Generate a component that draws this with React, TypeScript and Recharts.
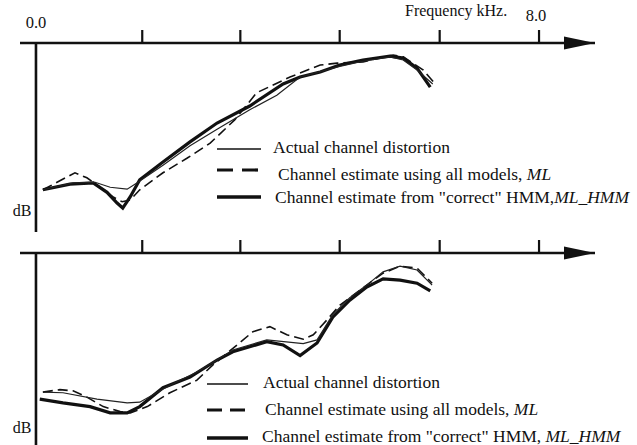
import { LineChart, Line, XAxis, YAxis, ReferenceLine, ReferenceDot, Legend } from 'recharts';

// frequency axis (kHz), tick positions as drawn in the figure
const FREQ_TICKS = [0, 1.69, 3.25, 4.83, 6.42, 8.0];
const FREQ_LABELS = ['0.0', '', '', '', '', '8.0'];
const X_DOMAIN = [-0.254, 8.89];

// upper panel (dB, arbitrary reference)
const topActual = [
  { f: 0.11, db: -23.3 }, { f: 0.59, db: -22.2 }, { f: 0.94, db: -22.1 }, { f: 1.18, db: -22.9 },
  { f: 1.45, db: -23.2 }, { f: 1.61, db: -22.2 }, { f: 2.02, db: -19.4 }, { f: 2.45, db: -16.3 },
  { f: 2.88, db: -13.7 }, { f: 3.4, db: -10.6 }, { f: 3.83, db: -8.3 }, { f: 4.2, db: -5.4 },
  { f: 4.83, db: -3.7 }, { f: 5.2, db: -2.9 }, { f: 5.63, db: -2.2 }, { f: 5.84, db: -2.7 },
  { f: 6.06, db: -4.3 }, { f: 6.31, db: -6.5 },
];
const topML = [
  { f: 0.11, db: -23.3 }, { f: 0.62, db: -20.6 }, { f: 0.81, db: -21.4 }, { f: 1.02, db: -22.9 },
  { f: 1.22, db: -24.4 }, { f: 1.37, db: -25.2 }, { f: 1.5, db: -24.9 }, { f: 1.65, db: -23.3 },
  { f: 2.02, db: -20.6 }, { f: 2.4, db: -18.3 }, { f: 2.77, db: -15.9 }, { f: 3.16, db: -12.2 },
  { f: 3.51, db: -7.9 }, { f: 4.04, db: -5.4 }, { f: 4.52, db: -3.5 }, { f: 4.79, db: -3.2 },
  { f: 5.2, db: -3.0 }, { f: 5.68, db: -1.9 }, { f: 5.84, db: -2.2 }, { f: 6.16, db: -4.3 },
  { f: 6.33, db: -6.3 },
];
const topMLHMM = [
  { f: 0.11, db: -23.3 }, { f: 0.54, db: -22.4 }, { f: 0.91, db: -22.2 }, { f: 1.13, db: -23.7 },
  { f: 1.29, db: -25.4 }, { f: 1.38, db: -26.2 }, { f: 1.5, db: -24.4 }, { f: 1.65, db: -21.7 },
  { f: 2.02, db: -18.9 }, { f: 2.45, db: -15.7 }, { f: 2.88, db: -12.7 }, { f: 3.4, db: -10.0 },
  { f: 3.93, db: -6.5 }, { f: 4.2, db: -5.4 }, { f: 4.52, db: -4.6 }, { f: 4.83, db: -3.5 },
  { f: 5.2, db: -2.7 }, { f: 5.63, db: -2.1 }, { f: 5.84, db: -2.4 }, { f: 6.06, db: -4.0 },
  { f: 6.27, db: -7.0 },
];

// lower panel
const botActual = [
  { f: 0.11, db: -22.1 }, { f: 0.43, db: -22.2 }, { f: 0.97, db: -23.2 }, { f: 1.45, db: -23.8 },
  { f: 1.65, db: -23.7 }, { f: 2.13, db: -21.0 }, { f: 2.56, db: -18.9 }, { f: 2.88, db: -17.0 },
  { f: 3.13, db: -15.4 }, { f: 3.67, db: -13.8 }, { f: 4.25, db: -14.4 }, { f: 4.47, db: -13.8 },
  { f: 4.72, db: -9.8 }, { f: 4.99, db: -7.1 }, { f: 5.26, db: -5.1 }, { f: 5.52, db: -3.0 },
  { f: 5.79, db: -2.1 }, { f: 6.06, db: -2.7 }, { f: 6.3, db: -5.1 },
];
const botML = [
  { f: 0.11, db: -22.1 }, { f: 0.38, db: -21.7 }, { f: 0.59, db: -21.9 }, { f: 0.81, db: -22.9 },
  { f: 1.07, db: -24.4 }, { f: 1.34, db: -25.2 }, { f: 1.5, db: -25.4 }, { f: 1.77, db: -24.4 },
  { f: 2.13, db: -22.2 }, { f: 2.56, db: -20.2 }, { f: 2.81, db: -17.8 }, { f: 3.2, db: -14.6 },
  { f: 3.45, db: -12.5 }, { f: 3.72, db: -11.7 }, { f: 3.99, db: -13.0 }, { f: 4.25, db: -13.7 },
  { f: 4.41, db: -13.0 }, { f: 4.63, db: -10.6 }, { f: 4.83, db: -8.3 }, { f: 5.26, db: -5.1 },
  { f: 5.52, db: -3.2 }, { f: 5.79, db: -2.1 }, { f: 6.06, db: -2.4 }, { f: 6.3, db: -4.8 },
];
const botMLHMM = [
  { f: 0.06, db: -23.2 }, { f: 0.43, db: -23.8 }, { f: 0.86, db: -24.4 }, { f: 1.18, db: -25.4 },
  { f: 1.45, db: -25.4 }, { f: 1.65, db: -24.4 }, { f: 2.02, db: -21.4 }, { f: 2.45, db: -19.7 },
  { f: 2.88, db: -17.0 }, { f: 3.13, db: -15.7 }, { f: 3.67, db: -14.1 }, { f: 3.93, db: -14.6 },
  { f: 4.2, db: -16.3 }, { f: 4.47, db: -14.3 }, { f: 4.72, db: -10.2 }, { f: 4.99, db: -7.5 },
  { f: 5.26, db: -5.4 }, { f: 5.52, db: -4.1 }, { f: 5.79, db: -4.3 }, { f: 6.06, db: -4.8 },
  { f: 6.27, db: -6.0 },
];

const LEGEND_TEXT = ['Actual channel distortion', 'Channel estimate using all models, ', 'Channel estimate from "correct" HMM,'];
const LEGEND_ITALIC = ['', 'ML', 'ML_HMM'];

const FONT = '"Liberation Serif", "Times New Roman", serif';
const INK = '#111';

function FreqTick(props: any) {
  const { x, y, payload, showLabels } = props;
  const i = FREQ_TICKS.indexOf(payload.value);
  const label = showLabels ? FREQ_LABELS[i] : '';
  return (
    <g>
      {payload.value !== 0 && <line x1={x} x2={x} y1={y} y2={y + 13} stroke={INK} strokeWidth={2.2} />}
      {label && (
        <text
          x={payload.value === 0 ? x : x - 3}
          y={payload.value === 0 ? y - 2 : y - 9}
          textAnchor="middle"
          fontFamily={FONT}
          fontSize={16.5}
          fill={INK}
        >
          {label}
        </text>
      )}
    </g>
  );
}

function ArrowHead(props: any) {
  const { cx, cy } = props;
  return <polygon points={`${cx},${cy} ${cx - 31},${cy - 6.5} ${cx - 31},${cy + 6.5}`} fill={INK} />;
}

function DbLabel(props: any) {
  const vb = props.viewBox || {};
  return (
    <text x={vb.x - 14} y={vb.y + vb.height - props.lift} textAnchor="middle" fontFamily={FONT} fontSize={16} fill={INK}>
      dB
    </text>
  );
}

function PanelLegend(props: any) {
  const { sampleY, textY, textX, sampleEnd, dash, thirdSep } = props;
  return (
    <svg width={440} height={80} style={{ overflow: 'visible' }}>
      <line x1={12} x2={sampleEnd} y1={sampleY[0]} y2={sampleY[0]} stroke={INK} strokeWidth={1.4} />
      <line x1={12} x2={sampleEnd} y1={sampleY[1]} y2={sampleY[1]} stroke={INK} strokeWidth={3.2} strokeDasharray={dash} />
      <line x1={12} x2={sampleEnd} y1={sampleY[2]} y2={sampleY[2]} stroke={INK} strokeWidth={3.6} />
      {LEGEND_TEXT.map((t, i) => (
        <text key={i} x={textX[i]} y={textY[i]} fontFamily={FONT} fontSize={17.5} fill={INK}>
          {t}
          {i === 2 ? thirdSep : ''}
          {LEGEND_ITALIC[i] && <tspan fontStyle="italic">{LEGEND_ITALIC[i]}</tspan>}
        </text>
      ))}
    </svg>
  );
}

function Panel(props: any) {
  const { height, margin, axisHeight, yDomain, actual, ml, mlhmm, showLabels, dbLift, legendPos, legendProps } = props;
  return (
    <LineChart width={637} height={height} margin={margin}>
      <XAxis
        xAxisId={0}
        type="number"
        dataKey="f"
        orientation="top"
        domain={X_DOMAIN}
        ticks={FREQ_TICKS}
        allowDataOverflow
        height={axisHeight}
        tickSize={13}
        tickMargin={0}
        tickLine={false}
        tick={<FreqTick showLabels={showLabels} />}
        axisLine={{ stroke: INK, strokeWidth: 2.6 }}
        label={
          showLabels
            ? {
                content: (p: any) => {
                  const vb = p.viewBox || { x: 20, y: 13 };
                  return (
                    <text x={vb.x + 385} y={vb.y + 3} fontFamily={FONT} fontSize={16} fill={INK}>
                      Frequency kHz.
                    </text>
                  );
                },
              }
            : undefined
        }
      />
      <YAxis yAxisId={0} type="number" domain={yDomain} hide allowDataOverflow />
      <ReferenceLine x={0} stroke={INK} strokeWidth={2.6} label={<DbLabel lift={dbLift} />} ifOverflow="visible" />
      <ReferenceDot x={X_DOMAIN[1]} y={0} r={0} shape={<ArrowHead />} ifOverflow="visible" />
      <Line data={mlhmm} dataKey="db" name="ML_HMM" type="linear" stroke={INK} strokeWidth={3.2} dot={false} isAnimationActive={false} />
      <Line data={ml} dataKey="db" name="ML" type="linear" stroke={INK} strokeWidth={1.6} strokeDasharray="10 5" dot={false} isAnimationActive={false} />
      <Line data={actual} dataKey="db" name="Actual" type="linear" stroke="#222" strokeWidth={1.2} dot={false} isAnimationActive={false} />
      <Legend
        layout="vertical"
        align="center"
        verticalAlign="middle"
        wrapperStyle={{ position: 'absolute', left: legendPos[0], top: legendPos[1], width: 440, height: 80 }}
        content={() => <PanelLegend {...legendProps} />}
      />
    </LineChart>
  );
}

export default function App() {
  return (
    <div style={{ position: 'absolute', left: 0, top: 0, width: 637, height: 445, background: '#fff', overflow: 'hidden' }}>
      <div style={{ position: 'absolute', left: 0, top: 0 }}>
        <Panel
          height={235}
          margin={{ top: 13, right: 42, bottom: 3, left: 20 }}
          axisHeight={30}
          yDomain={[-30, 0]}
          actual={topActual}
          ml={topML}
          mlhmm={topMLHMM}
          showLabels
          dbLift={16}
          legendPos={[205, 135]}
          legendProps={{ sampleY: [14, 35, 62], textY: [18, 45, 68], textX: [68, 73, 70], sampleEnd: 56, dash: '16 9', thirdSep: '' }}
        />
      </div>
      <div style={{ position: 'absolute', left: 0, top: 235 }}>
        <Panel
          height={210}
          margin={{ top: 0, right: 42, bottom: 0, left: 20 }}
          axisHeight={18}
          yDomain={[-30.5, 0]}
          actual={botActual}
          ml={botML}
          mlhmm={botMLHMM}
          showLabels={false}
          dbLift={12}
          legendPos={[195, 135]}
          legendProps={{ sampleY: [14, 40, 68], textY: [18, 45, 72], textX: [68, 70, 67], sampleEnd: 53, dash: '15 8', thirdSep: ' ' }}
        />
      </div>
    </div>
  );
}
